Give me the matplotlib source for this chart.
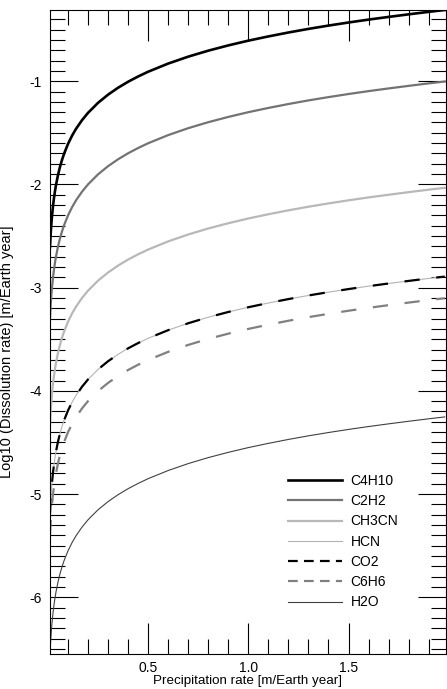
import numpy as np
import matplotlib
matplotlib.use("Agg")
import matplotlib.pyplot as plt
from matplotlib.ticker import MultipleLocator, FixedLocator
from matplotlib.lines import Line2D

plt.rcParams['font.family'] = ['Liberation Sans', 'DejaVu Sans']
plt.rcParams['axes.unicode_minus'] = False
plt.rcParams['lines.scale_dashes'] = False

# precipitation rate [m/Earth year]
precip = [0.01, 0.0125, 0.015, 0.0175, 0.02, 0.025, 0.03, 0.035, 0.04, 0.05,
          0.06, 0.07, 0.08, 0.1, 0.12, 0.14, 0.17, 0.2, 0.25, 0.3,
          0.35, 0.4, 0.45, 0.5, 0.6, 0.7, 0.8, 0.9, 1.0, 1.1,
          1.2, 1.3, 1.4, 1.5, 1.6, 1.7, 1.8, 1.9, 1.98]

# log10 of dissolution rate
c4h10 = [-2.607, -2.510, -2.431, -2.364, -2.306, -2.209, -2.130, -2.063, -2.005, -1.908,
         -1.829, -1.762, -1.704, -1.607, -1.528, -1.461, -1.377, -1.306, -1.209, -1.130,
         -1.063, -1.005, -0.954, -0.908, -0.829, -0.762, -0.704, -0.653, -0.607, -0.566,
         -0.528, -0.493, -0.461, -0.431, -0.403, -0.377, -0.352, -0.328, -0.310]
c2h2 = [-3.300, -3.203, -3.124, -3.057, -2.999, -2.902, -2.823, -2.756, -2.698, -2.601,
        -2.522, -2.455, -2.397, -2.300, -2.221, -2.154, -2.070, -1.999, -1.902, -1.823,
        -1.756, -1.698, -1.647, -1.601, -1.522, -1.455, -1.397, -1.346, -1.300, -1.259,
        -1.221, -1.186, -1.154, -1.124, -1.096, -1.070, -1.045, -1.021, -1.003]
ch3cn = [-4.330, -4.233, -4.154, -4.087, -4.029, -3.932, -3.853, -3.786, -3.728, -3.631,
         -3.552, -3.485, -3.427, -3.330, -3.251, -3.184, -3.100, -3.029, -2.932, -2.853,
         -2.786, -2.728, -2.677, -2.631, -2.552, -2.485, -2.427, -2.376, -2.330, -2.289,
         -2.251, -2.216, -2.184, -2.154, -2.126, -2.100, -2.075, -2.051, -2.033]
hcn = [-5.190, -5.093, -5.014, -4.947, -4.889, -4.792, -4.713, -4.646, -4.588, -4.491,
       -4.412, -4.345, -4.287, -4.190, -4.111, -4.044, -3.960, -3.889, -3.792, -3.713,
       -3.646, -3.588, -3.537, -3.491, -3.412, -3.345, -3.287, -3.236, -3.190, -3.149,
       -3.111, -3.076, -3.044, -3.014, -2.986, -2.960, -2.935, -2.911, -2.893]
co2 = [-5.190, -5.093, -5.014, -4.947, -4.889, -4.792, -4.713, -4.646, -4.588, -4.491,
       -4.412, -4.345, -4.287, -4.190, -4.111, -4.044, -3.960, -3.889, -3.792, -3.713,
       -3.646, -3.588, -3.537, -3.491, -3.412, -3.345, -3.287, -3.236, -3.190, -3.149,
       -3.111, -3.076, -3.044, -3.014, -2.986, -2.960, -2.935, -2.911, -2.893]
c6h6 = [-5.400, -5.303, -5.224, -5.157, -5.099, -5.002, -4.923, -4.856, -4.798, -4.701,
        -4.622, -4.555, -4.497, -4.400, -4.321, -4.254, -4.170, -4.099, -4.002, -3.923,
        -3.856, -3.798, -3.747, -3.701, -3.622, -3.555, -3.497, -3.446, -3.400, -3.359,
        -3.321, -3.286, -3.254, -3.224, -3.196, -3.170, -3.145, -3.121, -3.103]
h2o = [-6.550, -6.453, -6.374, -6.307, -6.249, -6.152, -6.073, -6.006, -5.948, -5.851,
       -5.772, -5.705, -5.647, -5.550, -5.471, -5.404, -5.320, -5.249, -5.152, -5.073,
       -5.006, -4.948, -4.897, -4.851, -4.772, -4.705, -4.647, -4.596, -4.550, -4.509,
       -4.471, -4.436, -4.404, -4.374, -4.346, -4.320, -4.295, -4.271, -4.253]

names = ["C4H10", "C2H2", "CH3CN", "HCN", "CO2", "C6H6", "H2O"]
series = [c4h10, c2h2, ch3cn, hcn, co2, c6h6, h2o]

fig = plt.figure(figsize=(4.47, 6.89), dpi=100)
ax = fig.add_axes([50 / 447, (689 - 654) / 689, 395.7 / 447, 644 / 689])

styles = [
    dict(color="black", lw=1.9),
    dict(color="0.45", lw=1.6),
    dict(color="0.72", lw=1.6),
    dict(color="0.7", lw=0.8),
    dict(color="black", lw=1.6, dashes=(11, 12)),
    dict(color="0.5", lw=1.6, dashes=(11, 12)),
    dict(color="0.25", lw=0.8),
]
for vals, kw, name in zip(series, styles, names):
    ax.plot(precip, vals, label=name, **kw)

# legend uses shorter dashes like the original
handles = []
for kw in styles:
    kw2 = dict(kw)
    if "dashes" in kw2:
        kw2["dashes"] = (7, 4.5)
    handles.append(Line2D([], [], **kw2))

ax.set_xlim(0.01, 1.985)
ax.set_ylim(min(h2o), max(c4h10))

ax.xaxis.set_major_locator(FixedLocator([0.5, 1.0, 1.5]))
ax.xaxis.set_minor_locator(MultipleLocator(0.1))
ax.yaxis.set_major_locator(MultipleLocator(1))
ax.yaxis.set_minor_locator(MultipleLocator(0.1))
ax.set_xticklabels(["0.5", "1.0", "1.5"])

ax.tick_params(axis="x", which="major", direction="in", length=22, width=0.8,
               top=True, labelsize=10, pad=5)
ax.tick_params(axis="x", which="minor", direction="in", length=11, width=0.8, top=True)
ax.tick_params(axis="y", which="major", direction="in", length=20, width=0.8,
               right=True, labelsize=10, pad=6)
ax.tick_params(axis="y", which="minor", direction="in", length=11, width=0.8, right=True)
for s in ax.spines.values():
    s.set_linewidth(0.8)

ax.set_xlabel("Precipitation rate [m/Earth year]", fontsize=9.6, labelpad=0)
ax.set_ylabel("Log10 (Dissolution rate) [m/Earth year]", fontsize=10.5)
ax.yaxis.set_label_coords(-0.091, 0.47)

ax.legend(handles, names, loc="upper left", bbox_to_anchor=(0.57, 0.299), frameon=False,
          fontsize=10, handlelength=3.9, handletextpad=0.6, labelspacing=0.45)

fig.savefig("out.png", dpi=100)
